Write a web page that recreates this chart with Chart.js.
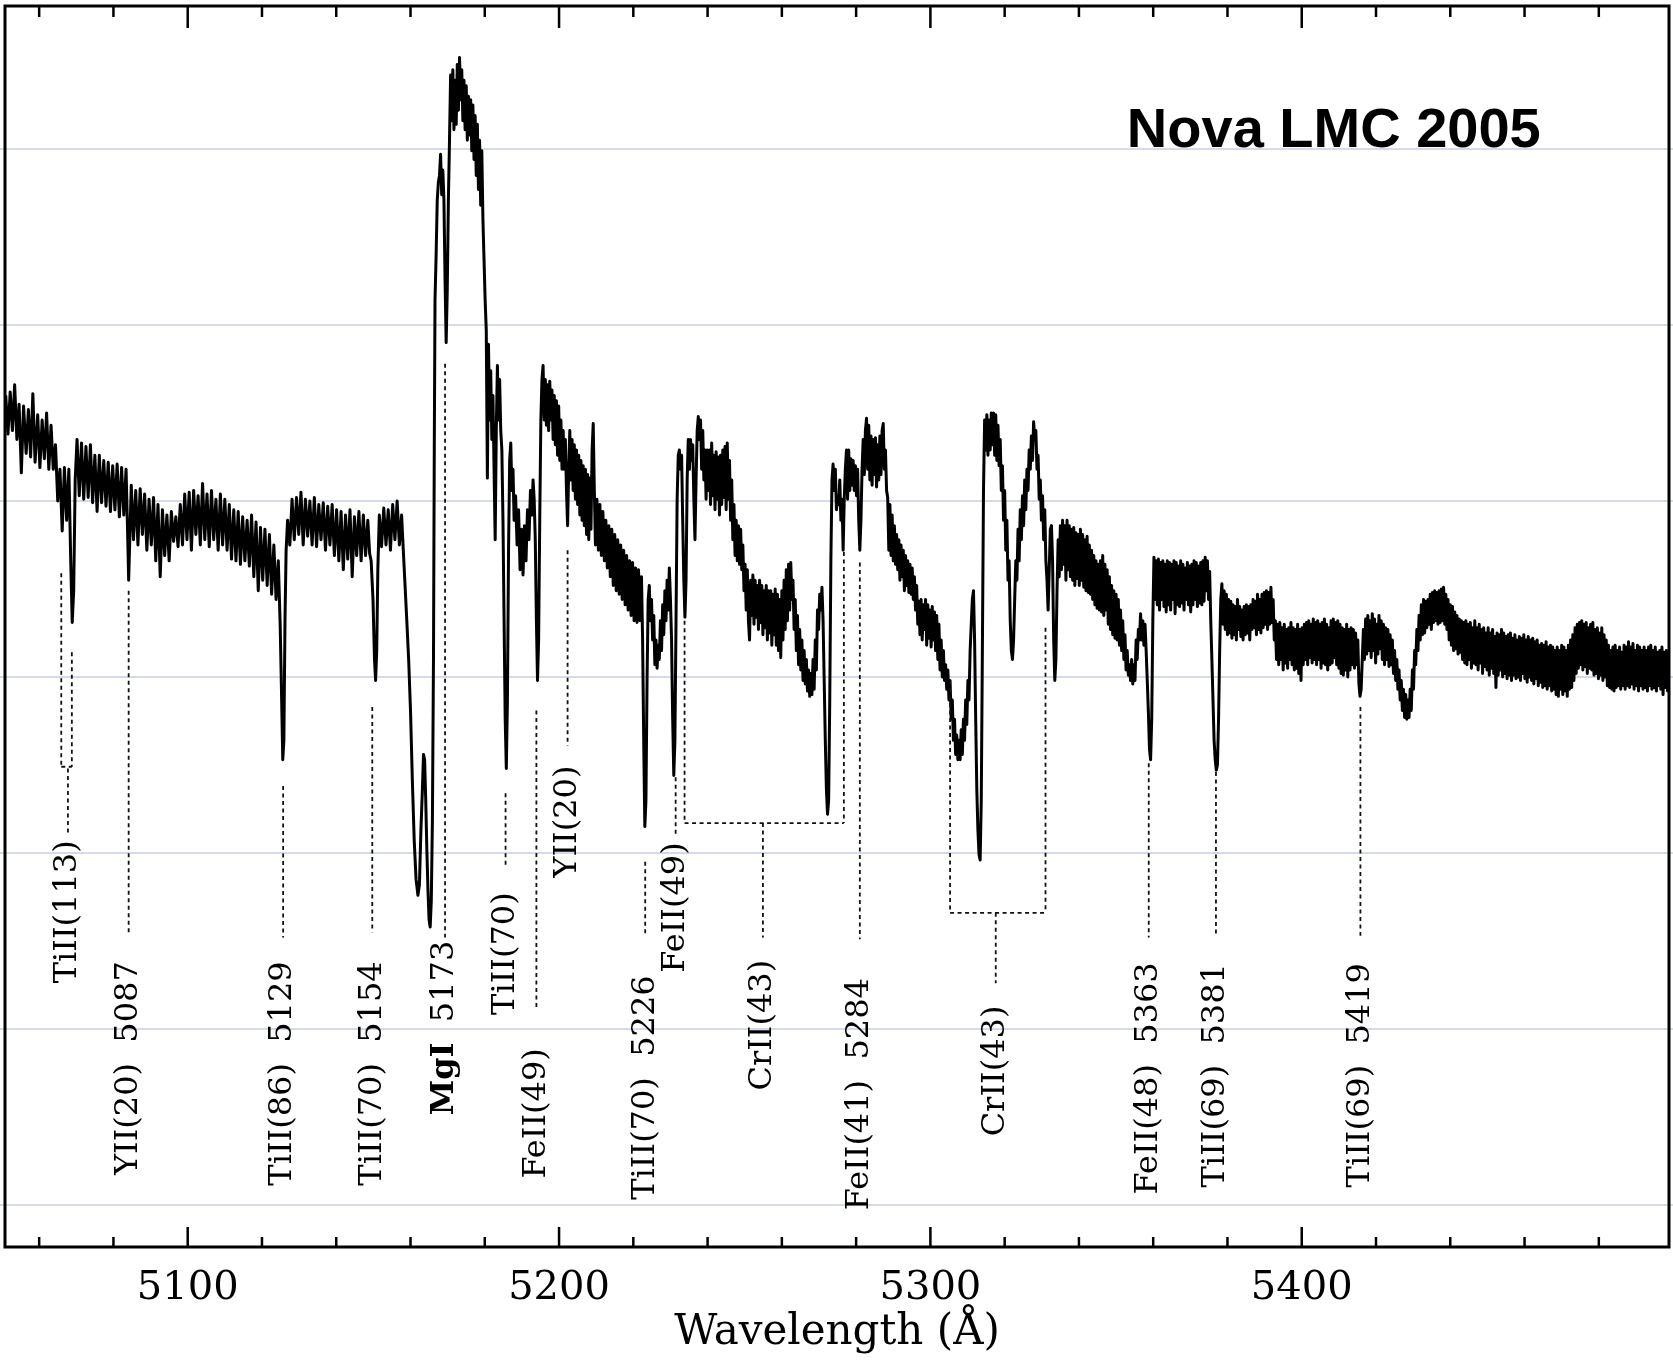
<!DOCTYPE html>
<html>
<head>
<meta charset="utf-8">
<title>Nova LMC 2005</title>
<script src="https://cdn.jsdelivr.net/npm/chart.js@4.4.1/dist/chart.umd.min.js"></script>
<style>
  html, body { margin: 0; padding: 0; background: #fff; }
  canvas { display: block; }
</style>
</head>
<body>
<canvas id="spectrum" width="1673" height="1362"></canvas>
<script>
// Spectrum: wavelength (Angstrom) and relative flux
const wavelength = [
  5051.0, 5051.6, 5052.2, 5052.8, 5053.4, 5054.0, 5054.6, 5055.2, 5055.8, 5056.5,
  5057.1, 5057.7, 5058.3, 5058.9, 5059.6, 5060.2, 5060.8, 5061.4, 5062.0, 5062.6,
  5063.2, 5063.8, 5064.4, 5065.0, 5065.6, 5066.2, 5066.8, 5067.4, 5068.0, 5068.5,
  5068.9, 5069.3, 5069.7, 5070.2,
  5070.8, 5071.4, 5072.0, 5072.6, 5073.2, 5073.8, 5074.4, 5075.0, 5075.6, 5076.2,
  5076.8, 5077.4, 5078.0, 5078.6, 5079.2, 5079.8, 5080.4, 5081.0, 5081.6, 5082.2,
  5082.8, 5083.4, 5083.8, 5084.1, 5084.4, 5084.8,
  5085.4, 5086.0, 5086.6, 5087.2, 5087.8, 5088.4, 5089.0, 5089.6, 5090.2, 5090.8,
  5091.4, 5092.0, 5092.6, 5093.2, 5093.8, 5094.4, 5095.0, 5095.6, 5096.2, 5096.8,
  5097.4, 5098.0, 5098.6, 5099.2, 5099.8, 5100.4, 5101.0, 5101.6, 5102.2, 5102.8,
  5103.4, 5104.0, 5104.6, 5105.2, 5105.8, 5106.4, 5107.0, 5107.6, 5108.2, 5108.8,
  5109.4, 5110.0,
  5110.6, 5111.2, 5111.8, 5112.4, 5113.0, 5113.6, 5114.2, 5114.8, 5115.4, 5116.0,
  5116.6, 5117.2, 5117.8, 5118.4, 5119.0, 5119.6, 5120.2, 5120.8, 5121.4, 5122.0,
  5122.6, 5123.2, 5123.8, 5124.4, 5124.9, 5125.3, 5125.6, 5125.9, 5126.2, 5126.5,
  5126.9,
  5127.5, 5128.1, 5128.7, 5129.3, 5129.9, 5130.5, 5131.1, 5131.7, 5132.3, 5132.9,
  5133.5, 5134.1, 5134.7, 5135.3, 5135.9, 5136.5, 5137.1, 5137.7, 5138.3, 5138.9,
  5139.5, 5140.1, 5140.7, 5141.3, 5141.9, 5142.5, 5143.1, 5143.7, 5144.3, 5144.9,
  5145.5, 5146.1, 5146.7, 5147.3, 5147.9, 5148.5, 5149.0, 5149.4, 5149.9, 5150.3,
  5150.6, 5150.9, 5151.2, 5151.6,
  5152.2, 5152.8, 5153.4, 5154.0, 5154.6, 5155.2, 5155.8, 5156.4, 5157.0, 5157.6,
  5158.2,
  5158.6, 5159.0, 5159.5, 5160.0, 5160.5, 5161.0, 5161.5, 5162.0, 5162.4, 5162.8,
  5163.2, 5163.5, 5163.8, 5164.1, 5164.4, 5164.7, 5165.0, 5165.3, 5165.6, 5165.9,
  5166.2, 5166.4, 5166.6, 5166.9, 5167.2, 5167.5, 5167.8, 5168.1, 5168.4, 5168.7,
  5169.0, 5169.3, 5169.6, 5169.9, 5170.2, 5170.5, 5170.8,
  5171.1, 5171.4, 5171.7, 5172.0, 5172.3, 5172.6, 5172.9, 5173.2, 5173.5, 5173.8,
  5174.1, 5174.4, 5174.7, 5175.0, 5175.3, 5175.6, 5175.9, 5176.2, 5176.5, 5176.8,
  5177.1, 5177.4, 5177.7, 5178.0, 5178.3, 5178.6, 5178.9, 5179.2, 5179.5, 5179.8,
  5180.1, 5180.4, 5180.7, 5181.0, 5181.3, 5181.6, 5181.9, 5182.2, 5182.5, 5182.8,
  5183.1, 5183.4, 5183.7, 5184.0, 5184.3, 5184.6, 5184.9, 5185.2, 5185.5, 5185.8,
  5186.1, 5186.4, 5186.7, 5187.0,
  5187.3, 5187.6, 5187.9, 5188.3, 5188.7, 5189.1, 5189.5, 5189.9, 5190.3, 5190.7,
  5191.1, 5191.5, 5191.9, 5192.3, 5192.7, 5193.0, 5193.3, 5193.6, 5193.9, 5194.2,
  5194.5, 5194.8, 5195.1, 5195.4, 5195.7,
  5196.0, 5196.3, 5196.6, 5196.9, 5197.2, 5197.5, 5197.8, 5198.1, 5198.4, 5198.7,
  5199.0, 5199.3, 5199.6, 5199.9, 5200.2, 5200.5, 5200.8, 5201.1, 5201.4, 5201.7,
  5202.0, 5202.3, 5202.6, 5202.9, 5203.2, 5203.5, 5203.8, 5204.1, 5204.4, 5204.7,
  5205.0, 5205.3, 5205.6, 5205.9, 5206.2, 5206.5, 5206.8, 5207.1, 5207.4, 5207.7,
  5208.0, 5208.3, 5208.6, 5208.9, 5209.2, 5209.5, 5209.8, 5210.2, 5210.6, 5211.0,
  5211.4, 5211.8, 5212.2, 5212.6, 5213.0, 5213.4, 5213.8, 5214.2, 5214.6, 5215.0,
  5215.4, 5215.8, 5216.2, 5216.6, 5217.0, 5217.4, 5217.8, 5218.2, 5218.6, 5219.0,
  5219.4, 5219.8, 5220.2, 5220.6, 5221.0, 5221.4, 5221.8, 5222.2, 5222.5, 5222.8,
  5223.1, 5223.4, 5223.7, 5224.0, 5224.3,
  5224.6, 5224.9, 5225.2, 5225.5, 5225.8, 5226.1, 5226.4, 5226.7, 5227.0, 5227.3,
  5227.6, 5227.9, 5228.2, 5228.5, 5228.8, 5229.1, 5229.4, 5229.7, 5230.0, 5230.3,
  5230.6, 5230.9, 5231.2, 5231.5, 5231.8, 5232.1, 5232.4, 5232.7, 5233.0, 5233.3,
  5233.6, 5233.9, 5234.2, 5234.5, 5234.8, 5235.1, 5235.4, 5235.7, 5236.0, 5236.3,
  5236.6, 5236.9, 5237.2, 5237.5, 5237.8, 5238.1,
  5238.4, 5238.7, 5239.0, 5239.3, 5239.6, 5239.9, 5240.2, 5240.5, 5240.8, 5241.1,
  5241.4, 5241.7, 5242.0, 5242.3, 5242.6, 5242.9, 5243.2, 5243.5, 5243.8, 5244.1,
  5244.4, 5244.7, 5245.0, 5245.3, 5245.6, 5245.9, 5246.2, 5246.5, 5246.8, 5247.1,
  5247.4, 5247.7, 5248.0, 5248.3, 5248.6, 5248.9, 5249.2, 5249.5, 5249.8, 5250.1,
  5250.4, 5250.7, 5251.0, 5251.3, 5251.6, 5251.9, 5252.2, 5252.5, 5252.8, 5253.1,
  5253.4, 5253.7, 5254.0, 5254.3, 5254.6, 5254.9, 5255.2, 5255.5, 5255.8, 5256.1,
  5256.4, 5256.7, 5257.0, 5257.3, 5257.6, 5257.9,
  5258.2, 5258.5, 5258.8, 5259.1, 5259.4, 5259.7, 5260.0, 5260.3, 5260.6, 5260.9,
  5261.2, 5261.5, 5261.8, 5262.1, 5262.4, 5262.7, 5263.0, 5263.3, 5263.6, 5263.9,
  5264.2, 5264.5, 5264.8, 5265.1, 5265.4, 5265.7, 5266.0, 5266.3, 5266.6, 5266.9,
  5267.2, 5267.5, 5267.8, 5268.1, 5268.4, 5268.7, 5269.0, 5269.3, 5269.6, 5269.9,
  5270.2, 5270.5, 5270.8, 5271.1, 5271.4, 5271.7, 5272.0, 5272.3, 5272.6, 5272.9,
  5273.2, 5273.5, 5273.8, 5274.1, 5274.4, 5274.7, 5275.0, 5275.3, 5275.6, 5275.9,
  5276.2, 5276.5, 5276.8, 5277.1, 5277.4,
  5277.7, 5278.0, 5278.3, 5278.6, 5278.9, 5279.2, 5279.5, 5279.8, 5280.1, 5280.4,
  5280.7, 5281.0, 5281.3, 5281.6, 5281.9, 5282.2, 5282.5, 5282.8, 5283.1, 5283.4,
  5283.7, 5284.0, 5284.3, 5284.6, 5284.9, 5285.2, 5285.5, 5285.8, 5286.1, 5286.4,
  5286.7, 5287.0, 5287.3, 5287.6, 5287.9, 5288.2, 5288.5, 5288.8, 5289.1, 5289.4,
  5289.7, 5290.0, 5290.3, 5290.6, 5290.9,
  5291.2, 5291.5, 5291.8, 5292.1, 5292.4, 5292.7, 5293.0, 5293.3, 5293.6, 5293.9,
  5294.2, 5294.5, 5294.8, 5295.1, 5295.4, 5295.7, 5296.0, 5296.3, 5296.6, 5296.9,
  5297.2, 5297.5, 5297.8, 5298.1, 5298.4, 5298.7, 5299.0, 5299.3, 5299.6, 5299.9,
  5300.2, 5300.5, 5300.8, 5301.1, 5301.4, 5301.7, 5302.0, 5302.3, 5302.6, 5302.9,
  5303.2, 5303.5, 5303.8, 5304.1, 5304.4, 5304.7, 5305.0, 5305.3, 5305.6, 5305.9,
  5306.2, 5306.5, 5306.8, 5307.1, 5307.4, 5307.7, 5308.0, 5308.3, 5308.6, 5308.9,
  5309.2, 5309.5, 5309.8, 5310.1, 5310.4, 5310.7, 5311.0, 5311.3, 5311.6, 5311.9,
  5312.2, 5312.5, 5312.8, 5313.1, 5313.4, 5313.7, 5314.0, 5314.3, 5314.6,
  5314.9, 5315.2, 5315.5, 5315.8, 5316.1, 5316.4, 5316.7, 5317.0, 5317.3, 5317.6,
  5317.9, 5318.2, 5318.5, 5318.8, 5319.1, 5319.4, 5319.7, 5320.0, 5320.3, 5320.6,
  5320.9, 5321.2, 5321.5, 5321.8, 5322.1, 5322.4, 5322.7, 5323.0, 5323.3, 5323.6,
  5323.9, 5324.2, 5324.5, 5324.8, 5325.1, 5325.4, 5325.7, 5326.0, 5326.3, 5326.6,
  5326.9, 5327.2, 5327.5, 5327.8, 5328.1, 5328.4, 5328.7, 5329.0, 5329.3, 5329.6,
  5329.9, 5330.2, 5330.5, 5330.8, 5331.1, 5331.4, 5331.7, 5332.0, 5332.3, 5332.6,
  5332.9, 5333.2, 5333.5, 5333.8, 5334.1, 5334.4, 5334.7, 5335.0, 5335.3, 5335.6,
  5335.9, 5336.2, 5336.5, 5336.8, 5337.1, 5337.4, 5337.7, 5338.0, 5338.3, 5338.6,
  5338.9, 5339.2, 5339.5, 5339.8, 5340.1, 5340.4, 5340.7, 5341.0, 5341.3, 5341.6,
  5341.9, 5342.2, 5342.5, 5342.8, 5343.1, 5343.4, 5343.7, 5344.0, 5344.3, 5344.6,
  5344.9, 5345.2, 5345.5, 5345.8, 5346.1, 5346.4, 5346.7, 5347.0, 5347.3, 5347.6,
  5347.9, 5348.2, 5348.5, 5348.8, 5349.1, 5349.4, 5349.7, 5350.0, 5350.3, 5350.6,
  5350.9, 5351.2, 5351.5, 5351.8, 5352.1, 5352.4, 5352.7, 5353.0, 5353.3, 5353.6,
  5353.9, 5354.2, 5354.5, 5354.8, 5355.1, 5355.4, 5355.7, 5356.0, 5356.3, 5356.6,
  5356.9, 5357.2, 5357.5, 5357.8, 5358.1, 5358.4, 5358.7, 5359.0, 5359.3, 5359.6,
  5359.9, 5360.2,
  5360.5, 5360.8, 5361.1, 5361.4, 5361.7, 5362.0, 5362.3, 5362.6, 5362.9, 5363.2,
  5363.5, 5363.8, 5364.1, 5364.4, 5364.7, 5365.0, 5365.3, 5365.6, 5365.9, 5366.2,
  5366.5, 5366.8, 5367.1, 5367.4, 5367.7, 5368.0, 5368.3, 5368.6, 5368.9, 5369.2,
  5369.5, 5369.8, 5370.1, 5370.4, 5370.7, 5371.0, 5371.3, 5371.6, 5371.9, 5372.2,
  5372.5, 5372.8, 5373.1, 5373.4, 5373.7, 5374.0, 5374.3, 5374.6, 5374.9, 5375.2,
  5375.5, 5375.8, 5376.1, 5376.4, 5376.7, 5377.0, 5377.3, 5377.6, 5377.9, 5378.2,
  5378.5, 5378.8, 5379.1, 5379.4, 5379.7, 5380.0, 5380.3, 5380.6, 5380.9, 5381.2,
  5381.5, 5381.8, 5382.1, 5382.4, 5382.7, 5383.0, 5383.3, 5383.6, 5383.9, 5384.2,
  5384.5, 5384.8, 5385.1, 5385.4, 5385.7, 5386.0, 5386.3, 5386.6, 5386.9, 5387.2,
  5387.5, 5387.8, 5388.1, 5388.4, 5388.7, 5389.0, 5389.3, 5389.6, 5389.9, 5390.2,
  5390.5, 5390.8, 5391.1, 5391.4, 5391.7, 5392.0, 5392.3, 5392.6, 5392.9, 5393.2,
  5393.5, 5393.8, 5394.1, 5394.4, 5394.7, 5395.0, 5395.3, 5395.6, 5395.9, 5396.2,
  5396.5, 5396.8, 5397.1, 5397.4, 5397.7, 5398.0, 5398.3, 5398.6, 5398.9, 5399.2,
  5399.5, 5399.8, 5400.1, 5400.4, 5400.7, 5401.0, 5401.3, 5401.6, 5401.9, 5402.2,
  5402.5, 5402.8, 5403.1, 5403.4, 5403.7, 5404.0, 5404.3, 5404.6, 5404.9, 5405.2,
  5405.5, 5405.8, 5406.1, 5406.4, 5406.7, 5407.0, 5407.3, 5407.6, 5407.9, 5408.2,
  5408.5, 5408.8, 5409.1, 5409.4, 5409.7, 5410.0, 5410.3, 5410.6, 5410.9, 5411.2,
  5411.5, 5411.8, 5412.1, 5412.4, 5412.7, 5413.0, 5413.3, 5413.6, 5413.9, 5414.2,
  5414.5, 5414.8, 5415.1, 5415.4, 5415.7, 5416.0, 5416.3,
  5416.6, 5416.9, 5417.2, 5417.5, 5417.8, 5418.1, 5418.4, 5418.7, 5419.0, 5419.3,
  5419.6, 5419.9, 5420.2, 5420.5, 5420.8, 5421.1, 5421.4, 5421.7, 5422.0, 5422.3,
  5422.6, 5422.9, 5423.2, 5423.5, 5423.8, 5424.1, 5424.4, 5424.7, 5425.0, 5425.3,
  5425.6, 5425.9, 5426.2, 5426.5, 5426.8, 5427.1, 5427.4, 5427.7, 5428.0, 5428.3,
  5428.6, 5428.9, 5429.2, 5429.5, 5429.8, 5430.1, 5430.4, 5430.7, 5431.0, 5431.3,
  5431.6, 5431.9, 5432.2, 5432.5, 5432.8, 5433.1, 5433.4, 5433.7, 5434.0, 5434.3,
  5434.6, 5434.9, 5435.2, 5435.5, 5435.8, 5436.1, 5436.4, 5436.7, 5437.0, 5437.3,
  5437.6, 5437.9, 5438.2, 5438.5, 5438.8, 5439.1, 5439.4, 5439.7, 5440.0, 5440.3,
  5440.6, 5440.9, 5441.2, 5441.5, 5441.8, 5442.1, 5442.4, 5442.7, 5443.0, 5443.3,
  5443.6, 5443.9, 5444.2, 5444.5, 5444.8, 5445.1, 5445.4, 5445.7, 5446.0, 5446.3,
  5446.6, 5446.9, 5447.2, 5447.5, 5447.8, 5448.1, 5448.4, 5448.7, 5449.0, 5449.3,
  5449.6, 5449.9, 5450.2, 5450.5, 5450.8, 5451.1, 5451.4, 5451.7, 5452.0, 5452.3,
  5452.6, 5452.9, 5453.2, 5453.5, 5453.8, 5454.1, 5454.4, 5454.7, 5455.0, 5455.3,
  5455.6, 5455.9, 5456.2, 5456.5, 5456.8, 5457.1, 5457.4, 5457.7, 5458.0, 5458.3,
  5458.6, 5458.9, 5459.2, 5459.5, 5459.8, 5460.1, 5460.4, 5460.7, 5461.0, 5461.3,
  5461.6, 5461.9, 5462.2, 5462.5, 5462.8, 5463.1, 5463.4, 5463.7, 5464.0, 5464.3,
  5464.6, 5464.9, 5465.2, 5465.5, 5465.8, 5466.1, 5466.4, 5466.7, 5467.0, 5467.3,
  5467.6, 5467.9, 5468.2, 5468.5, 5468.8, 5469.1, 5469.4, 5469.7, 5470.0, 5470.3,
  5470.6, 5470.9, 5471.2, 5471.5, 5471.8, 5472.1, 5472.4, 5472.7, 5473.0, 5473.3,
  5473.6, 5473.9, 5474.2, 5474.5, 5474.8, 5475.1, 5475.4, 5475.7, 5476.0, 5476.3,
  5476.6, 5476.9, 5477.2, 5477.5, 5477.8, 5478.1, 5478.4, 5478.7, 5479.0, 5479.3,
  5479.6, 5479.9, 5480.2, 5480.5, 5480.8, 5481.1, 5481.4, 5481.7, 5482.0, 5482.3,
  5482.6, 5482.9, 5483.2, 5483.5, 5483.8, 5484.1, 5484.4, 5484.7, 5485.0, 5485.3,
  5485.6, 5485.9, 5486.2, 5486.5, 5486.8, 5487.1, 5487.4, 5487.7, 5488.0, 5488.3,
  5488.6, 5488.9, 5489.2, 5489.5, 5489.8, 5490.1, 5490.4, 5490.7, 5491.0, 5491.3,
  5491.6, 5491.9, 5492.2, 5492.5, 5492.8, 5493.1, 5493.4, 5493.7, 5494.0, 5494.3,
  5494.6, 5494.9, 5495.2, 5495.5, 5495.8, 5496.1, 5496.4, 5496.7, 5497.0, 5497.3,
  5497.6, 5497.9, 5498.2, 5498.5, 5498.8
];

const flux = [
  4.60, 4.38, 4.62, 4.40, 4.66, 4.35, 4.55, 4.16, 4.54, 4.27,
  4.52, 4.25, 4.61, 4.22, 4.49, 4.19, 4.46, 4.24, 4.50, 4.18,
  4.43, 4.18, 4.32, 4.00, 4.18, 3.83, 4.19, 3.89, 4.18, 3.66,
  3.31, 3.49, 4.12, 4.35,
  4.03, 4.33, 4.01, 4.31, 4.02, 4.32, 3.99, 4.26, 3.94, 4.26,
  3.99, 4.23, 3.97, 4.22, 3.94, 4.20, 3.95, 4.21, 3.91, 4.19,
  3.92, 4.18, 3.84, 3.55, 3.78, 4.09,
  3.78, 4.06, 3.75, 4.07, 3.81, 4.04, 3.72, 4.01, 3.75, 4.02,
  3.66, 3.98, 3.57, 3.95, 3.69, 3.92, 3.66, 3.94, 3.77, 3.91,
  3.74, 3.98, 3.75, 4.04, 3.78, 4.05, 3.72, 4.06, 3.81, 4.03,
  3.75, 4.10, 3.78, 4.04, 3.74, 4.06, 3.78, 4.01, 3.72, 4.04,
  3.75, 4.01,
  3.72, 3.98, 3.67, 3.95, 3.66, 3.94, 3.64, 3.91, 3.66, 3.89,
  3.63, 3.92, 3.57, 3.88, 3.49, 3.85, 3.55, 3.84, 3.52, 3.81,
  3.47, 3.75, 3.44, 3.66, 3.30, 2.87, 2.53, 2.64, 3.32, 3.72,
  3.89,
  3.75, 4.01, 3.78, 4.02, 3.81, 4.05, 3.75, 4.01, 3.80, 4.00,
  3.75, 4.02, 3.74, 3.98, 3.78, 3.99, 3.72, 3.97, 3.75, 3.98,
  3.69, 3.95, 3.66, 3.94, 3.61, 3.92, 3.67, 3.95, 3.57, 3.91,
  3.69, 3.94, 3.66, 3.92, 3.69, 3.89, 3.70, 3.66, 3.44, 3.10,
  2.98, 3.15, 3.61, 3.92,
  3.74, 3.96, 3.75, 3.95, 3.72, 3.98, 3.78, 4.00, 3.75, 3.92,
  3.66,
  3.49, 3.32, 3.10, 2.81, 2.41, 2.07, 1.85, 1.76, 1.82, 2.13,
  2.36, 2.56, 2.53, 2.30, 2.02, 1.79, 1.62, 1.58, 1.73, 2.19,
  3.15, 4.29, 5.14, 5.40, 5.71, 5.81, 5.85, 5.97, 5.74, 5.88,
  5.71, 5.26, 4.90, 5.20, 5.71, 6.05, 6.42,
  6.16, 6.45, 6.11, 6.39, 6.14, 6.48, 6.22, 6.52, 6.28, 6.45,
  6.16, 6.39, 6.11, 6.36, 6.05, 6.30, 6.08, 6.28, 5.99, 6.25,
  5.94, 6.19, 5.85, 6.14, 5.77, 6.05, 5.68, 5.99, 5.60, 5.37,
  5.14, 4.97, 4.13, 4.89, 4.46, 4.74, 4.35, 4.60, 4.18, 3.78,
  4.40, 4.77, 4.46, 4.69, 4.40, 4.29, 3.89, 3.32, 2.76, 2.48,
  2.87, 3.72, 4.23, 4.33,
  4.06, 4.18, 3.89, 4.03, 3.75, 3.95, 3.61, 3.84, 3.58, 3.86,
  3.66, 3.95, 3.78, 4.06, 3.92, 4.12, 4.01, 3.78, 3.32, 2.98,
  3.21, 3.89, 4.46, 4.69, 4.77,
  4.46, 4.69, 4.43, 4.66, 4.40, 4.68, 4.46, 4.63, 4.35, 4.60,
  4.32, 4.57, 4.26, 4.54, 4.23, 4.46, 4.18, 4.40, 4.18, 4.35,
  4.06, 3.86, 4.18, 4.40, 4.12, 4.35, 4.06, 4.32, 4.01, 4.29,
  3.98, 4.26, 3.92, 4.23, 3.89, 4.20, 3.86, 4.18, 3.81, 4.15,
  3.78, 4.13, 3.84, 4.29, 4.44, 4.06, 3.75, 4.01, 3.72, 3.98,
  3.69, 3.94, 3.66, 3.89, 3.62, 3.86, 3.57, 3.84, 3.52, 3.81,
  3.49, 3.78, 3.47, 3.75, 3.44, 3.72, 3.41, 3.69, 3.38, 3.66,
  3.35, 3.65, 3.32, 3.62, 3.31, 3.61, 3.32, 3.57, 3.21, 2.64,
  2.15, 2.30, 2.98, 3.44, 3.52,
  3.32, 3.44, 3.21, 3.35, 3.07, 3.21, 3.05, 3.18, 3.10, 3.32,
  3.15, 3.41, 3.24, 3.49, 3.32, 3.55, 3.38, 3.62, 3.44, 3.21,
  2.76, 2.44, 2.64, 3.32, 4.01, 4.26, 4.29, 4.18, 4.26, 3.89,
  3.55, 3.34, 3.55, 4.12, 4.35, 4.18, 4.35, 4.23, 4.32, 4.01,
  3.78, 4.12, 4.40, 4.48, 4.35, 4.46,
  4.18, 4.40, 4.12, 4.29, 4.01, 4.29, 4.06, 4.29, 3.98, 4.33,
  4.03, 4.26, 3.95, 4.28, 4.01, 4.25, 3.92, 4.26, 3.98, 4.29,
  4.02, 4.31, 3.95, 4.33, 4.01, 4.23, 3.89, 4.12, 3.78, 3.98,
  3.69, 3.89, 3.66, 3.86, 3.64, 3.84, 3.61, 3.75, 3.49, 3.64,
  3.38, 3.61, 3.32, 3.21, 3.55, 3.35, 3.58, 3.30, 3.55, 3.34,
  3.52, 3.27, 3.55, 3.31, 3.52, 3.24, 3.49, 3.28, 3.52, 3.21,
  3.49, 3.25, 3.49, 3.18, 3.47, 3.24,
  3.50, 3.18, 3.47, 3.15, 3.44, 3.11, 3.49, 3.21, 3.55, 3.27,
  3.61, 3.32, 3.64, 3.38, 3.65, 3.44, 3.55, 3.27, 3.44, 3.15,
  3.35, 3.07, 3.27, 3.04, 3.21, 2.98, 3.15, 2.96, 3.10, 2.92,
  3.04, 2.89, 3.02, 2.90, 3.10, 2.93, 3.21, 3.04, 3.38, 3.27,
  3.47, 3.38, 3.51, 3.32, 2.98, 2.64, 2.36, 2.22, 2.30, 2.87,
  3.66, 4.12, 4.21, 4.06, 4.18, 3.95, 4.02, 3.98, 4.12, 3.89,
  4.01, 3.72, 4.01, 4.18, 4.29,
  4.01, 4.29, 4.06, 4.24, 4.09, 4.23, 4.06, 4.20, 4.03, 4.18,
  3.89, 3.72, 3.89, 4.18, 4.35, 4.15, 4.40, 4.47, 4.18, 4.43,
  4.12, 4.37, 4.09, 4.35, 4.15, 4.36, 4.08, 4.32, 4.12, 4.37,
  4.15, 4.40, 4.44, 4.18, 4.29, 4.06, 4.02, 3.72, 3.98, 3.69,
  3.92, 3.66, 3.86, 3.64, 3.81,
  3.61, 3.78, 3.55, 3.75, 3.57, 3.72, 3.49, 3.69, 3.52, 3.66,
  3.48, 3.64, 3.47, 3.62, 3.44, 3.57, 3.38, 3.52, 3.30, 3.43,
  3.24, 3.44, 3.21, 3.41, 3.27, 3.44, 3.18, 3.41, 3.22, 3.38,
  3.17, 3.40, 3.21, 3.37, 3.15, 3.35, 3.10, 3.30, 3.04, 3.21,
  3.00, 3.15, 2.98, 3.07, 2.93, 3.04, 2.87, 2.98, 2.76, 2.87,
  2.64, 2.76, 2.56, 2.67, 2.53, 2.64, 2.53, 2.70, 2.56, 2.76,
  2.64, 2.87, 2.73, 2.98, 2.87, 3.15, 3.30, 3.44, 3.49, 3.21,
  2.76, 2.36, 2.13, 1.99, 1.96, 2.30, 3.15, 4.06, 4.46,
  4.29, 4.49, 4.26, 4.46, 4.29, 4.50, 4.32, 4.50, 4.26, 4.49,
  4.23, 4.43, 4.20, 4.35, 4.06, 4.20, 3.89, 4.06, 3.72, 3.89,
  3.55, 3.66, 3.32, 3.15, 3.10, 3.21, 3.44, 3.66, 3.55, 3.84,
  3.66, 3.95, 3.78, 4.03, 3.86, 4.12, 3.95, 4.18, 4.06, 4.29,
  4.18, 4.37, 4.23, 4.45, 4.35, 4.40, 4.18, 4.26, 4.01, 4.12,
  3.89, 4.03, 3.78, 3.95, 3.66, 3.55, 3.38, 3.61, 3.84, 3.86,
  3.66, 3.21, 2.98, 3.10, 3.49, 3.78, 3.57, 3.86, 3.61, 3.89,
  3.64, 3.86, 3.55, 3.89, 3.61, 3.86, 3.57, 3.84, 3.55, 3.85,
  3.52, 3.82, 3.56, 3.81, 3.52, 3.84, 3.55, 3.81, 3.51, 3.78,
  3.49, 3.80, 3.48, 3.75, 3.47, 3.72, 3.44, 3.69, 3.41, 3.66,
  3.39, 3.64, 3.38, 3.66, 3.37, 3.69, 3.35, 3.64, 3.38, 3.61,
  3.30, 3.57, 3.27, 3.52, 3.24, 3.49, 3.22, 3.47, 3.21, 3.44,
  3.18, 3.38, 3.15, 3.32, 3.10, 3.24, 3.04, 3.15, 3.01, 3.07,
  2.98, 3.10, 2.96, 3.07, 2.98, 3.21, 3.10, 3.27, 3.21, 3.36,
  3.21, 3.32, 3.18, 3.30, 3.15, 2.98, 2.80, 2.59, 2.53, 2.76,
  3.32, 3.68,
  3.44, 3.66, 3.41, 3.67, 3.38, 3.65, 3.44, 3.66, 3.40, 3.64,
  3.37, 3.66, 3.41, 3.65, 3.38, 3.64, 3.44, 3.66, 3.36, 3.65,
  3.41, 3.63, 3.40, 3.66, 3.42, 3.64, 3.38, 3.62, 3.44, 3.65,
  3.41, 3.63, 3.37, 3.64, 3.41, 3.66, 3.44, 3.65, 3.40, 3.63,
  3.42, 3.65, 3.41, 3.66, 3.43, 3.68, 3.49, 3.66, 3.44, 3.60,
  3.32, 3.10, 2.87, 2.64, 2.53, 2.47, 2.50, 2.76, 3.15, 3.44,
  3.53, 3.30, 3.49, 3.27, 3.47, 3.24, 3.44, 3.25, 3.43, 3.22,
  3.41, 3.24, 3.40, 3.21, 3.44, 3.27, 3.40, 3.23, 3.38, 3.21,
  3.40, 3.24, 3.41, 3.25, 3.40, 3.21, 3.41, 3.27, 3.44, 3.28,
  3.43, 3.24, 3.47, 3.27, 3.44, 3.25, 3.47, 3.28, 3.48, 3.30,
  3.49, 3.27, 3.48, 3.30, 3.51, 3.31, 3.44, 3.21, 3.32, 3.10,
  3.30, 3.07, 3.31, 3.10, 3.28, 3.04, 3.30, 3.08, 3.27, 3.05,
  3.28, 3.10, 3.31, 3.07, 3.28, 3.04, 3.27, 3.05, 3.30, 3.02,
  3.27, 2.98, 3.28, 3.07, 3.30, 3.10, 3.31, 3.07, 3.32, 3.11,
  3.30, 3.08, 3.33, 3.10, 3.31, 3.07, 3.32, 3.10, 3.30, 3.05,
  3.31, 3.08, 3.33, 3.07, 3.30, 3.04, 3.28, 3.07, 3.32, 3.08,
  3.33, 3.11, 3.31, 3.07, 3.32, 3.05, 3.30, 3.02, 3.28, 3.01,
  3.27, 3.04, 3.30, 3.00, 3.27, 3.04, 3.28, 3.07, 3.27, 3.05,
  3.25, 3.07, 3.21, 2.96, 2.89, 2.93, 3.10,
  3.27, 3.10, 3.33, 3.13, 3.35, 3.15, 3.32, 3.11, 3.36, 3.15,
  3.33, 3.08, 3.30, 3.13, 3.35, 3.16, 3.32, 3.10, 3.30, 3.07,
  3.28, 3.10, 3.27, 3.06, 3.24, 3.07, 3.21, 3.02, 3.15, 2.98,
  3.10, 2.93, 3.04, 2.87, 2.98, 2.81, 2.93, 2.77, 2.90, 2.76,
  2.87, 2.77, 2.93, 2.81, 3.04, 2.93, 3.15, 3.07, 3.27, 3.15,
  3.35, 3.21, 3.41, 3.24, 3.44, 3.25, 3.43, 3.28, 3.44, 3.30,
  3.47, 3.27, 3.48, 3.31, 3.49, 3.32, 3.48, 3.30, 3.49, 3.31,
  3.50, 3.32, 3.51, 3.30, 3.47, 3.27, 3.44, 3.21, 3.41, 3.18,
  3.40, 3.15, 3.37, 3.16, 3.35, 3.13, 3.33, 3.14, 3.32, 3.10,
  3.31, 3.08, 3.32, 3.07, 3.30, 3.10, 3.31, 3.05, 3.28, 3.08,
  3.32, 3.07, 3.28, 3.04, 3.30, 3.08, 3.27, 3.02, 3.28, 3.06,
  3.25, 3.04, 3.28, 3.01, 3.25, 3.05, 3.27, 3.02, 3.23, 2.94,
  3.25, 3.01, 3.24, 3.04, 3.27, 3.00, 3.25, 3.02, 3.23, 2.99,
  3.24, 3.01, 3.25, 2.98, 3.22, 3.01, 3.24, 2.99, 3.21, 3.00,
  3.23, 2.98, 3.22, 3.02, 3.24, 2.99, 3.21, 2.97, 3.23, 3.00,
  3.21, 2.98, 3.22, 2.96, 3.20, 2.99, 3.21, 2.95, 3.18, 2.97,
  3.19, 2.94, 3.18, 2.95, 3.20, 2.93, 3.17, 2.95, 3.18, 2.92,
  3.17, 2.93, 3.15, 2.90, 3.17, 2.89, 3.15, 2.93, 3.18, 2.90,
  3.17, 2.92, 3.15, 2.89, 3.18, 2.93, 3.21, 2.94, 3.24, 2.98,
  3.28, 3.02, 3.30, 3.05, 3.31, 3.07, 3.32, 3.04, 3.30, 3.06,
  3.31, 3.02, 3.28, 3.05, 3.30, 3.04, 3.31, 3.01, 3.27, 3.02,
  3.28, 2.99, 3.25, 3.01, 3.28, 2.98, 3.24, 3.00, 3.21, 2.95,
  3.18, 2.94, 3.15, 2.93, 3.17, 2.92, 3.18, 2.94, 3.15, 2.95,
  3.17, 2.93, 3.14, 2.95, 3.18, 2.93, 3.17, 2.95, 3.20, 2.94,
  3.17, 2.96, 3.19, 2.93, 3.15, 2.95, 3.18, 2.92, 3.17, 2.95,
  3.15, 2.93, 3.17, 2.94, 3.15, 2.92, 3.17, 2.95, 3.18, 2.93,
  3.15, 2.94, 3.17, 2.92, 3.14, 2.95, 3.15, 2.93, 3.17, 2.90,
  3.14, 2.94, 3.15, 2.92, 3.13
];

// Line identifications
const lineNames = ['TiII(113)', 'YII(20)', 'TiII(86)', 'TiII(70)', 'MgI', 'TiII(70)', 'FeII(49)', 'YII(20)',
  'TiII(70)', 'FeII(49)', 'CrII(43)', 'FeII(41)', 'CrII(43)', 'FeII(48)', 'TiII(69)', 'TiII(69)'];
const lineRest = ['', '5087', '5129', '5154', '5173', '', '', '', '5226', '', '', '5284', '', '5363', '5381', '5419'];
const lineWave = [5067.75, 5084.1, 5125.7, 5149.7, 5169.3, 5185.6, 5193.9, 5202.3,
  5223.2, 5231.4, 5254.9, 5281.0, 5317.6, 5358.8, 5376.9, 5415.8];

const xTicks = [5100, 5200, 5300, 5400];

// dashed drop lines: top / bottom of the line, and where the label text starts (flux units)
const markerLayout = [
  { top: 2.48, bottom: 2.10, text: 1.26 },
  { top: 3.49, bottom: 1.55, text: 0.17 },
  { top: 2.38, bottom: 1.52, text: 0.11 },
  { top: 2.83, bottom: 1.55, text: 0.11 },
  { top: 4.78, bottom: 1.52, text: 0.51, bold: true },
  { top: 2.34, bottom: 1.93, text: 1.08 },
  { top: 2.81, bottom: 1.11, text: 0.15 },
  { top: 3.72, bottom: 2.61, text: 1.86 },
  { top: 1.95, bottom: 1.53, text: 0.03 },
  { top: 2.43, bottom: 2.09, text: 1.32 },
  { top: 2.17, bottom: 1.52, text: 0.65 },
  { top: 3.65, bottom: 1.51, text: -0.03 },
  { top: 1.66, bottom: 1.26, text: 0.39 },
  { top: 2.51, bottom: 1.52, text: 0.06 },
  { top: 2.46, bottom: 1.53, text: 0.10 },
  { top: 2.83, bottom: 1.53, text: 0.10 }
];

// blended features joined by a bracket before dropping to one label
const blends = [
  { arms: [5065.95, 5068.8], armTop: [3.59, 3.14], join: 2.49 },
  { arms: [5233.8, 5276.7], armTop: [3.32, 3.71], join: 2.17 },
  { arms: [5305.3, 5331.0], armTop: [2.98, 3.28], join: 1.66 }
];

const points = wavelength.map((w, i) => ({ x: w, y: flux[i] }));

const SERIF = '"DejaVu Serif", serif';

function segment(ctx, x0, y0, x1, y1) {
  ctx.beginPath();
  ctx.moveTo(x0, y0);
  ctx.lineTo(x1, y1);
  ctx.stroke();
}

const decorations = {
  id: 'decorations',
  beforeDraw(chart) {
    const { ctx, width, height } = chart;
    const y = chart.scales.y;
    ctx.save();
    ctx.fillStyle = '#ffffff';
    ctx.fillRect(0, 0, width, height);
    // faint ruling runs right across the page
    ctx.strokeStyle = '#c4cfe3';
    ctx.lineWidth = 1.5;
    for (let v = 0; v <= 6; v++) {
      const py = y.getPixelForValue(v);
      segment(ctx, 0, py, width, py);
    }
    ctx.restore();
  },
  afterDatasetsDraw(chart) {
    const { ctx, chartArea: a } = chart;
    const x = chart.scales.x, y = chart.scales.y;
    ctx.save();

    // identification markers
    ctx.strokeStyle = '#111';
    ctx.lineWidth = 1.8;
    ctx.setLineDash([4, 3.5]);
    lineWave.forEach((w, i) => {
      const m = markerLayout[i];
      const px = x.getPixelForValue(w);
      segment(ctx, px, y.getPixelForValue(m.top), px, y.getPixelForValue(m.bottom));
    });
    blends.forEach(b => {
      const yj = y.getPixelForValue(b.join);
      const xa = b.arms.map(w => x.getPixelForValue(w));
      xa.forEach((px, k) => segment(ctx, px, y.getPixelForValue(b.armTop[k]), px, yj));
      segment(ctx, xa[0], yj, xa[1], yj);
    });
    ctx.setLineDash([]);

    // rotated labels, reading upwards
    ctx.fillStyle = '#000';
    lineWave.forEach((w, i) => {
      const m = markerLayout[i];
      ctx.save();
      ctx.translate(x.getPixelForValue(w), y.getPixelForValue(m.text));
      ctx.rotate(-Math.PI / 2);
      ctx.textAlign = 'left';
      ctx.textBaseline = 'middle';
      ctx.font = (m.bold ? 'bold ' : '') + '32px ' + SERIF;
      ctx.fillText(lineNames[i], 0, 0);
      if (lineRest[i]) {
        const off = ctx.measureText(lineNames[i]).width;
        ctx.font = '32px ' + SERIF;
        ctx.fillText('  ' + lineRest[i], off, 0);
      }
      ctx.restore();
    });

    // frame with inward ticks on top and bottom
    ctx.strokeStyle = '#000';
    ctx.lineWidth = 3;
    ctx.strokeRect(a.left, a.top, a.right - a.left, a.bottom - a.top);
    ctx.lineWidth = 2.5;
    for (let v = 5060; v <= 5480; v += 20) {
      const px = x.getPixelForValue(v);
      const major = v % 100 === 0;
      segment(ctx, px, a.bottom, px, a.bottom - (major ? 20 : 10));
      segment(ctx, px, a.top, px, a.top + (major ? 22 : 11));
    }

    // object name
    ctx.font = 'bold 56px "Liberation Sans", Arial, sans-serif';
    ctx.textAlign = 'left';
    ctx.textBaseline = 'alphabetic';
    ctx.fillText('Nova LMC 2005', x.getPixelForValue(5352.9), y.getPixelForValue(6.01));
    ctx.restore();
  }
};

new Chart(document.getElementById('spectrum'), {
  type: 'scatter',
  data: {
    datasets: [{
      data: points,
      showLine: true,
      borderColor: '#000',
      borderWidth: 3,
      borderJoinStyle: 'round',
      pointRadius: 0,
      tension: 0
    }]
  },
  options: {
    responsive: false,
    animation: false,
    devicePixelRatio: 1,
    parsing: false,
    normalized: true,
    layout: { padding: { left: 5, right: 4, top: 6, bottom: 0 } },
    plugins: { legend: { display: false }, tooltip: { enabled: false } },
    scales: {
      x: {
        type: 'linear',
        min: 5050.8,
        max: 5498.9,
        afterBuildTicks: scale => { scale.ticks = xTicks.map(v => ({ value: v })); },
        afterFit: scale => { scale.height = 115; },
        ticks: {
          callback: v => String(v),
          color: '#000',
          padding: 10,
          maxRotation: 0,
          font: { family: SERIF, size: 40 }
        },
        grid: { display: false },
        border: { display: false },
        title: {
          display: true,
          text: 'Wavelength (Å)',
          color: '#000',
          padding: { top: 0, bottom: 4 },
          font: { family: SERIF, size: 42 }
        }
      },
      y: {
        display: false,
        min: -0.2386,
        max: 6.8125
      }
    }
  },
  plugins: [decorations]
});
</script>
</body>
</html>
